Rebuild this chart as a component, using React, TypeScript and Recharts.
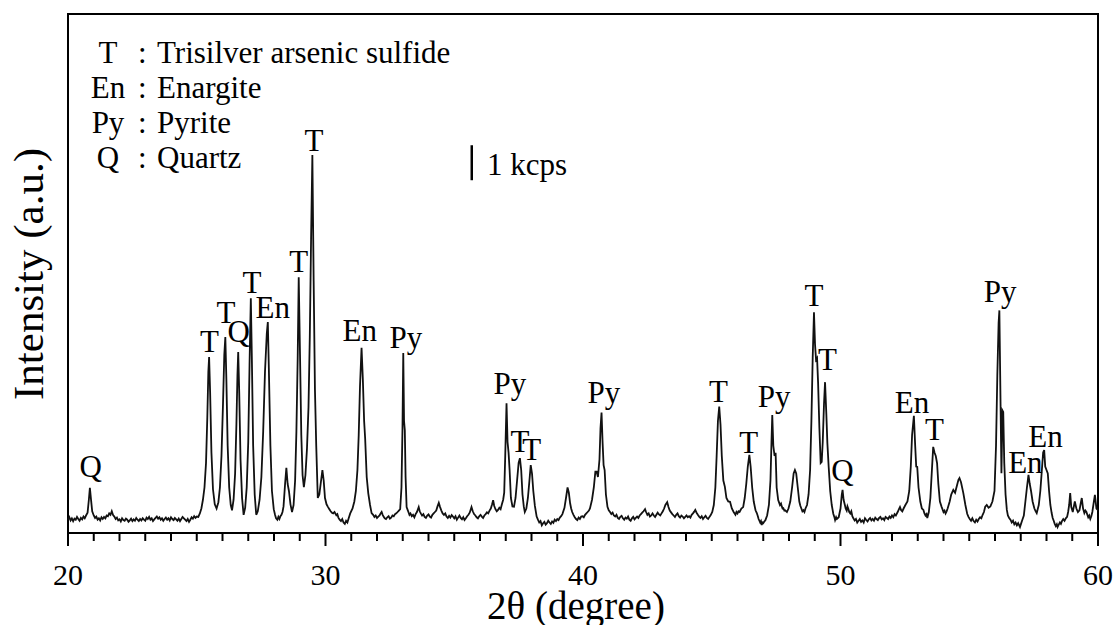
import { ComposedChart, Line, XAxis, YAxis, ReferenceArea, ReferenceDot, ReferenceLine } from "recharts";

// XRD scan, [2θ (deg), intensity (cps)]
const scan20to25: [number, number][] = [
  [20.0, 380], [20.05, 450], [20.1, 360], [20.15, 420], [20.2, 340], [20.25, 410], [20.3, 380], [20.35, 460],
  [20.4, 400], [20.45, 350], [20.5, 430], [20.55, 390], [20.6, 470], [20.65, 420], [20.7, 500], [20.76, 580],
  [20.81, 950], [20.85, 1290], [20.89, 980], [20.94, 620], [21.0, 500], [21.05, 430], [21.1, 470], [21.15, 380],
  [21.2, 420], [21.25, 360], [21.3, 450], [21.35, 400], [21.4, 460], [21.45, 420], [21.5, 500], [21.55, 480],
  [21.6, 560], [21.65, 520], [21.7, 620], [21.75, 510], [21.8, 470], [21.85, 400], [21.9, 440], [21.95, 360],
  [22.0, 390], [22.05, 330], [22.1, 420], [22.15, 370], [22.2, 350], [22.25, 410], [22.3, 380], [22.35, 320],
  [22.4, 360], [22.45, 410], [22.5, 340], [22.55, 390], [22.6, 350], [22.65, 430], [22.7, 380], [22.75, 340],
  [22.8, 400], [22.85, 360], [22.9, 420], [22.95, 380], [23.0, 350], [23.05, 440], [23.1, 400], [23.15, 460],
  [23.2, 380], [23.25, 420], [23.3, 340], [23.35, 390], [23.4, 430], [23.45, 470], [23.5, 410], [23.55, 450],
  [23.6, 380], [23.65, 420], [23.7, 350], [23.75, 400], [23.8, 440], [23.85, 380], [23.9, 420], [23.95, 360],
  [24.0, 450], [24.05, 400], [24.1, 370], [24.15, 430], [24.2, 390], [24.25, 350], [24.3, 410], [24.35, 340],
  [24.4, 400], [24.45, 460], [24.5, 420], [24.55, 380], [24.6, 340], [24.65, 400], [24.7, 320], [24.75, 380],
  [24.8, 450], [24.85, 410], [24.9, 480], [24.95, 430], [25.0, 470],
];

const scan25to31: [number, number][] = [
  [25.06, 460], [25.12, 560], [25.18, 700], [25.24, 950], [25.3, 1300], [25.36, 2000], [25.41, 3300], [25.45, 4600],
  [25.48, 5030], [25.52, 4000], [25.57, 2300], [25.63, 1250], [25.7, 820], [25.77, 700], [25.84, 880], [25.9, 1300],
  [25.96, 2200], [26.02, 3700], [26.07, 5100], [26.11, 5600], [26.15, 4400], [26.2, 2500], [26.26, 1300], [26.32, 800],
  [26.37, 650], [26.43, 950], [26.49, 1700], [26.54, 3100], [26.58, 4500], [26.61, 5170], [26.65, 4000], [26.7, 2100],
  [26.76, 1000], [26.82, 520], [26.88, 720], [26.94, 1300], [27.0, 2600], [27.05, 4800], [27.1, 6710], [27.14, 5000],
  [27.19, 2500], [27.25, 1100], [27.31, 520], [27.37, 620], [27.44, 950], [27.51, 1600], [27.58, 2900], [27.65, 4600],
  [27.72, 5700], [27.76, 6030], [27.8, 4700], [27.86, 2500], [27.92, 1200], [27.99, 680], [28.04, 520], [28.08, 420],
  [28.13, 380], [28.17, 460], [28.21, 400], [28.25, 480], [28.29, 520], [28.33, 600], [28.37, 760], [28.43, 1400],
  [28.48, 1860], [28.53, 1400], [28.58, 1200], [28.64, 820], [28.7, 600], [28.76, 800], [28.82, 1500], [28.87, 2900],
  [28.92, 5000], [28.96, 7310], [29.01, 5100], [29.06, 2800], [29.11, 1650], [29.16, 1310], [29.22, 1650], [29.28, 2400],
  [29.34, 3600], [29.39, 5600], [29.44, 8400], [29.49, 10800], [29.54, 7200], [29.59, 4100], [29.64, 2500], [29.7, 1000],
  [29.76, 1100], [29.82, 1450], [29.88, 1800], [29.93, 1500], [29.98, 1000], [30.04, 820], [30.1, 740], [30.15, 680],
  [30.2, 620], [30.25, 580], [30.3, 560], [30.35, 600], [30.42, 510], [30.46, 540], [30.5, 440], [30.55, 380],
  [30.6, 340], [30.65, 400], [30.7, 300], [30.75, 260], [30.8, 350], [30.85, 300], [30.9, 420],
];

const scan31to39: [number, number][] = [
  [30.96, 560], [31.05, 700], [31.12, 900], [31.18, 1200], [31.24, 1800], [31.29, 2800], [31.34, 4200], [31.4, 5290],
  [31.45, 4400], [31.5, 3200], [31.54, 2700], [31.6, 1600], [31.66, 1140], [31.73, 800], [31.79, 570], [31.85, 520],
  [31.9, 460], [31.95, 500], [32.0, 430], [32.05, 470], [32.1, 500], [32.14, 560], [32.18, 600], [32.22, 520],
  [32.26, 460], [32.3, 420], [32.35, 400], [32.4, 450], [32.45, 480], [32.5, 410], [32.55, 440], [32.6, 500],
  [32.65, 480], [32.7, 540], [32.75, 560], [32.8, 600], [32.85, 640], [32.9, 680], [32.95, 1300], [32.99, 3000],
  [33.02, 5140], [33.05, 3200], [33.08, 2940], [33.11, 1600], [33.15, 740], [33.19, 660], [33.22, 600], [33.26, 520],
  [33.3, 560], [33.35, 480], [33.4, 520], [33.45, 450], [33.5, 540], [33.55, 600], [33.62, 740], [33.66, 620],
  [33.7, 560], [33.75, 500], [33.8, 540], [33.85, 460], [33.9, 430], [33.95, 500], [34.0, 530], [34.05, 470],
  [34.1, 440], [34.15, 520], [34.2, 560], [34.25, 600], [34.3, 640], [34.35, 760], [34.4, 860], [34.45, 740],
  [34.5, 640], [34.55, 560], [34.6, 520], [34.65, 560], [34.7, 470], [34.75, 430], [34.8, 490], [34.85, 440],
  [34.9, 510], [34.95, 470], [35.0, 420], [35.05, 480], [35.1, 380], [35.15, 440], [35.2, 500], [35.25, 430],
  [35.3, 390], [35.35, 450], [35.4, 370], [35.45, 420], [35.5, 480], [35.55, 520], [35.6, 580], [35.67, 740],
  [35.72, 620], [35.77, 540], [35.82, 500], [35.87, 450], [35.92, 420], [35.97, 480], [36.02, 520], [36.07, 470],
  [36.12, 430], [36.17, 500], [36.22, 540], [36.27, 590], [36.32, 560], [36.37, 640], [36.42, 700], [36.47, 820],
  [36.51, 940], [36.55, 780], [36.6, 680], [36.65, 620], [36.7, 660], [36.75, 720], [36.8, 680], [36.85, 820],
  [36.9, 950], [36.94, 1150], [36.98, 2200], [37.03, 3710], [37.07, 2600], [37.11, 2290], [37.15, 1800], [37.2, 1000],
  [37.26, 760], [37.32, 750], [37.38, 1000], [37.44, 1500], [37.5, 2000], [37.55, 2140], [37.6, 1800], [37.65, 1100],
  [37.7, 760], [37.74, 600], [37.8, 700], [37.86, 1000], [37.92, 1500], [37.97, 1940], [38.02, 1700], [38.07, 1200],
  [38.13, 780], [38.2, 470], [38.25, 380], [38.3, 300], [38.35, 340], [38.4, 220], [38.45, 280], [38.5, 320],
  [38.55, 240], [38.6, 280], [38.65, 350], [38.7, 300], [38.75, 260], [38.8, 330], [38.85, 290], [38.9, 380],
  [38.95, 340], [39.0, 400],
];

const scan39to46: [number, number][] = [
  [39.05, 370], [39.1, 440], [39.15, 480], [39.2, 540], [39.28, 720], [39.35, 1050], [39.4, 1300], [39.45, 1150],
  [39.5, 850], [39.54, 700], [39.58, 600], [39.63, 520], [39.68, 450], [39.73, 400], [39.78, 370], [39.83, 440],
  [39.88, 400], [39.93, 470], [39.98, 480], [40.03, 450], [40.08, 520], [40.13, 560], [40.18, 600], [40.23, 640],
  [40.27, 700], [40.35, 950], [40.42, 1300], [40.48, 1750], [40.53, 1750], [40.58, 1600], [40.64, 2100], [40.68, 3000],
  [40.72, 3440], [40.76, 2600], [40.8, 1940], [40.84, 1800], [40.89, 1100], [40.95, 750], [41.0, 650], [41.05, 600],
  [41.1, 540], [41.15, 580], [41.2, 500], [41.25, 470], [41.3, 520], [41.35, 430], [41.4, 400], [41.45, 460],
  [41.5, 490], [41.55, 420], [41.6, 380], [41.65, 440], [41.7, 410], [41.75, 470], [41.8, 380], [41.85, 350],
  [41.9, 420], [41.95, 460], [42.0, 390], [42.05, 430], [42.1, 470], [42.15, 430], [42.2, 500], [42.25, 540],
  [42.3, 580], [42.35, 620], [42.41, 680], [42.45, 600], [42.5, 520], [42.55, 560], [42.6, 470], [42.65, 500],
  [42.7, 560], [42.75, 500], [42.8, 460], [42.85, 520], [42.9, 580], [42.95, 530], [43.0, 500], [43.05, 560],
  [43.1, 620], [43.15, 700], [43.2, 800], [43.27, 880], [43.32, 740], [43.37, 640], [43.42, 590], [43.47, 540],
  [43.52, 500], [43.57, 460], [43.62, 520], [43.67, 560], [43.72, 480], [43.77, 440], [43.82, 500], [43.87, 470],
  [43.92, 420], [43.97, 460], [44.02, 500], [44.07, 450], [44.12, 480], [44.17, 440], [44.22, 520], [44.27, 560],
  [44.32, 610], [44.36, 660], [44.41, 580], [44.46, 520], [44.51, 470], [44.56, 430], [44.61, 480], [44.66, 400],
  [44.71, 450], [44.76, 490], [44.81, 430], [44.86, 400], [44.91, 460], [44.96, 510], [45.02, 600], [45.08, 800],
  [45.14, 1300], [45.19, 2200], [45.24, 3200], [45.29, 3610], [45.34, 3100], [45.39, 2200], [45.45, 1500], [45.51, 1320],
  [45.57, 1000], [45.64, 900], [45.71, 890], [45.78, 700], [45.85, 600], [45.92, 520], [45.96, 600], [46.0, 560],
];

const scan46to52: [number, number][] = [
  [46.04, 620], [46.08, 600], [46.15, 700], [46.22, 740], [46.28, 1000], [46.34, 1400], [46.4, 1900], [46.46, 2230],
  [46.51, 1900], [46.57, 1300], [46.63, 900], [46.7, 650], [46.75, 570], [46.79, 480], [46.82, 400], [46.85, 350],
  [46.88, 300], [46.91, 340], [46.94, 230], [46.97, 300], [47.0, 280], [47.04, 330], [47.08, 360], [47.15, 500],
  [47.22, 800], [47.28, 1500], [47.32, 2600], [47.35, 3370], [47.39, 2500], [47.44, 2200], [47.48, 2290], [47.52, 1300],
  [47.58, 940], [47.62, 860], [47.65, 800], [47.69, 840], [47.72, 760], [47.75, 700], [47.78, 710], [47.82, 640],
  [47.85, 650], [47.92, 600], [47.98, 700], [48.05, 900], [48.12, 1300], [48.18, 1700], [48.23, 1800], [48.28, 1700],
  [48.34, 1300], [48.4, 900], [48.44, 780], [48.48, 700], [48.52, 620], [48.56, 650], [48.6, 600], [48.64, 700],
  [48.7, 800], [48.76, 1100], [48.82, 1800], [48.87, 3200], [48.92, 5000], [48.97, 6310], [49.01, 5400], [49.05, 4950],
  [49.09, 5000], [49.13, 4290], [49.18, 3000], [49.23, 2000], [49.27, 2030], [49.31, 2600], [49.36, 3700], [49.4, 4310],
  [49.45, 3400], [49.49, 2570], [49.54, 1900], [49.6, 1200], [49.66, 800], [49.72, 550], [49.76, 460], [49.79, 370],
  [49.83, 450], [49.86, 400], [49.93, 450], [50.0, 700], [50.05, 1100], [50.08, 1230], [50.12, 950], [50.17, 800],
  [50.2, 700], [50.24, 640], [50.27, 760], [50.3, 700], [50.34, 600], [50.38, 560], [50.42, 620], [50.46, 480],
  [50.5, 420], [50.55, 360], [50.6, 400], [50.65, 300], [50.7, 350], [50.75, 400], [50.8, 320], [50.85, 360],
  [50.9, 300], [50.95, 420], [51.0, 370], [51.05, 330], [51.1, 390], [51.15, 430], [51.2, 360], [51.25, 400],
  [51.3, 350], [51.35, 440], [51.4, 400], [51.45, 370], [51.5, 430], [51.55, 460], [51.6, 390], [51.65, 420],
  [51.7, 370], [51.75, 460], [51.8, 430], [51.85, 400], [51.9, 470], [51.95, 430], [52.0, 500],
];

const scan52to60: [number, number][] = [
  [52.05, 450], [52.1, 540], [52.15, 500], [52.22, 600], [52.27, 680], [52.31, 740], [52.35, 660], [52.4, 620],
  [52.45, 700], [52.52, 800], [52.6, 900], [52.67, 1200], [52.73, 1900], [52.78, 2800], [52.85, 3350], [52.9, 2500],
  [52.94, 1900], [52.98, 1890], [53.03, 1300], [53.1, 900], [53.16, 700], [53.22, 660], [53.26, 560], [53.3, 500],
  [53.34, 540], [53.37, 430], [53.43, 600], [53.49, 1000], [53.55, 1800], [53.6, 2460], [53.65, 2300], [53.7, 2200],
  [53.75, 2000], [53.8, 1400], [53.86, 900], [53.93, 740], [53.97, 660], [54.0, 600], [54.04, 640], [54.08, 560],
  [54.12, 620], [54.16, 700], [54.24, 900], [54.3, 1100], [54.38, 1230], [54.45, 1150], [54.52, 1350], [54.58, 1520],
  [54.62, 1570], [54.68, 1450], [54.77, 1140], [54.85, 800], [54.92, 550], [54.97, 460], [55.02, 400], [55.07, 350],
  [55.12, 420], [55.17, 340], [55.22, 300], [55.27, 380], [55.32, 330], [55.37, 400], [55.42, 450], [55.47, 420],
  [55.52, 520], [55.57, 600], [55.62, 750], [55.68, 800], [55.75, 720], [55.82, 760], [55.9, 900], [55.98, 1200],
  [56.04, 2500], [56.09, 4500], [56.14, 6000], [56.17, 6360], [56.21, 4000], [56.25, 1710], [56.29, 3500], [56.32, 3460],
  [56.36, 2000], [56.41, 1100], [56.46, 660], [56.5, 500], [56.55, 430], [56.6, 380], [56.65, 300], [56.7, 350],
  [56.75, 250], [56.8, 300], [56.85, 220], [56.9, 280], [56.97, 170], [57.01, 260], [57.05, 350], [57.12, 500],
  [57.18, 900], [57.24, 1300], [57.3, 1660], [57.35, 1400], [57.4, 1200], [57.46, 900], [57.53, 700], [57.58, 620],
  [57.62, 570], [57.7, 800], [57.76, 1200], [57.82, 1800], [57.87, 2300], [57.91, 2370], [57.95, 1900], [58.0, 1800],
  [58.05, 1700], [58.1, 1200], [58.15, 800], [58.2, 570], [58.24, 430], [58.28, 350], [58.32, 260], [58.36, 200],
  [58.4, 250], [58.43, 170], [58.47, 230], [58.52, 300], [58.56, 260], [58.6, 340], [58.65, 400], [58.7, 350],
  [58.75, 420], [58.8, 460], [58.84, 600], [58.88, 800], [58.92, 1140], [58.96, 750], [59.02, 600], [59.06, 750],
  [59.1, 900], [59.16, 700], [59.22, 600], [59.28, 650], [59.33, 850], [59.37, 1000], [59.42, 700], [59.47, 570],
  [59.51, 640], [59.55, 600], [59.62, 450], [59.66, 500], [59.7, 400], [59.74, 480], [59.78, 600], [59.84, 900],
  [59.88, 1090], [59.94, 700], [60.0, 650],
];

// phase labels: text, 2θ and intensity of the label baseline
const peakLabels: { text: string; twoTheta: number; cps: number }[] = [
  { text: "Q", twoTheta: 20.88, cps: 1600 },
  { text: "T", twoTheta: 25.49, cps: 5170 },
  { text: "T", twoTheta: 26.13, cps: 6000 },
  { text: "Q", twoTheta: 26.63, cps: 5460 },
  { text: "T", twoTheta: 27.14, cps: 6860 },
  { text: "En", twoTheta: 27.95, cps: 6140 },
  { text: "T", twoTheta: 28.96, cps: 7460 },
  { text: "T", twoTheta: 29.55, cps: 10910 },
  { text: "En", twoTheta: 31.33, cps: 5490 },
  { text: "Py", twoTheta: 33.12, cps: 5290 },
  { text: "Py", twoTheta: 37.16, cps: 3970 },
  { text: "T", twoTheta: 37.55, cps: 2310 },
  { text: "T", twoTheta: 38.01, cps: 2090 },
  { text: "Py", twoTheta: 40.81, cps: 3710 },
  { text: "T", twoTheta: 45.26, cps: 3740 },
  { text: "T", twoTheta: 46.44, cps: 2290 },
  { text: "Py", twoTheta: 47.42, cps: 3600 },
  { text: "T", twoTheta: 48.97, cps: 6490 },
  { text: "T", twoTheta: 49.49, cps: 4660 },
  { text: "Q", twoTheta: 50.08, cps: 1490 },
  { text: "En", twoTheta: 52.78, cps: 3430 },
  { text: "T", twoTheta: 53.65, cps: 2660 },
  { text: "Py", twoTheta: 56.2, cps: 6600 },
  { text: "En", twoTheta: 57.18, cps: 1710 },
  { text: "En", twoTheta: 57.96, cps: 2460 },
];

const legendRows = [
  ["T", "Trisilver arsenic sulfide"],
  ["En", "Enargite"],
  ["Py", "Pyrite"],
  ["Q", "Quartz"],
];

const xTicks = Array.from({ length: 41 }, (_, i) => 20 + i);
const Y_MAX = 14830;
const scaleBar = { twoTheta: 35.68, from: 10080, to: 11080 };

const FONT = "'Liberation Serif', 'Times New Roman', serif";

const data = [...scan20to25, ...scan25to31, ...scan31to39, ...scan39to46, ...scan46to52, ...scan52to60].map(
  ([twoTheta, cps]) => ({ twoTheta, cps })
);

function DegreeTick({ x, y, payload }: any) {
  const major = payload.value % 10 === 0;
  return (
    <g>
      <line x1={x} x2={x} y1={y} y2={y + (major ? 13 : 8)} stroke="#000" strokeWidth={2} />
      {major && (
        <text x={x} y={y + 52} textAnchor="middle" fontSize={30} fontFamily={FONT} fill="#000">
          {payload.value}
        </text>
      )}
    </g>
  );
}

const peakText = (text: string) => (props: any) => {
  const vb = props.viewBox || {};
  return (
    <text
      x={vb.x + (vb.width || 0) / 2}
      y={vb.y + (vb.height || 0) / 2}
      textAnchor="middle"
      fontSize={31}
      fontFamily={FONT}
      fill="#000"
    >
      {text}
    </text>
  );
};

export default function App() {
  return (
    <div style={{ position: "absolute", left: 0, top: 0, width: 1114, height: 625, background: "#fff" }}>
      <ComposedChart width={1114} height={625} data={data} margin={{ top: 14, right: 16, bottom: 0, left: 68 }}>
        <XAxis
          dataKey="twoTheta"
          type="number"
          domain={[20, 60]}
          ticks={xTicks}
          interval={0}
          height={92}
          tickSize={0}
          tickMargin={0}
          tickLine={false}
          axisLine={false}
          tick={<DegreeTick />}
        />
        <YAxis hide type="number" domain={[0, Y_MAX]} />
        <ReferenceArea x1={20} x2={60} y1={0} y2={Y_MAX} fill="none" stroke="#000" strokeWidth={2} ifOverflow="visible" />
        <Line
          type="linear"
          dataKey="cps"
          stroke="#111"
          strokeWidth={1.8}
          dot={false}
          isAnimationActive={false}
        />
        <ReferenceLine
          segment={[
            { x: scaleBar.twoTheta, y: scaleBar.from },
            { x: scaleBar.twoTheta, y: scaleBar.to },
          ]}
          stroke="#000"
          strokeWidth={2.5}
        />
        {peakLabels.map((p, i) => (
          <ReferenceDot
            key={i}
            x={p.twoTheta}
            y={p.cps}
            r={0}
            fill="none"
            stroke="none"
            label={peakText(p.text)}
          />
        ))}
      </ComposedChart>
      <svg
        width={1114}
        height={625}
        style={{ position: "absolute", left: 0, top: 0, pointerEvents: "none" }}
        fontFamily={FONT}
        fill="#000"
      >
        {legendRows.map(([abbr, name], i) => (
          <g key={abbr} fontSize={31}>
            <text x={108} y={63 + i * 35} textAnchor="middle">{abbr}</text>
            <text x={138} y={63 + i * 35}>:</text>
            <text x={157} y={63 + i * 35}>{name}</text>
          </g>
        ))}
        <text x={487} y={175} fontSize={31}>1 kcps</text>
        <text x={576} y={619} fontSize={39} textAnchor="middle">2θ (degree)</text>
        <text transform="translate(43,274) rotate(-90)" fontSize={43} textAnchor="middle">Intensity (a.u.)</text>
      </svg>
    </div>
  );
}
